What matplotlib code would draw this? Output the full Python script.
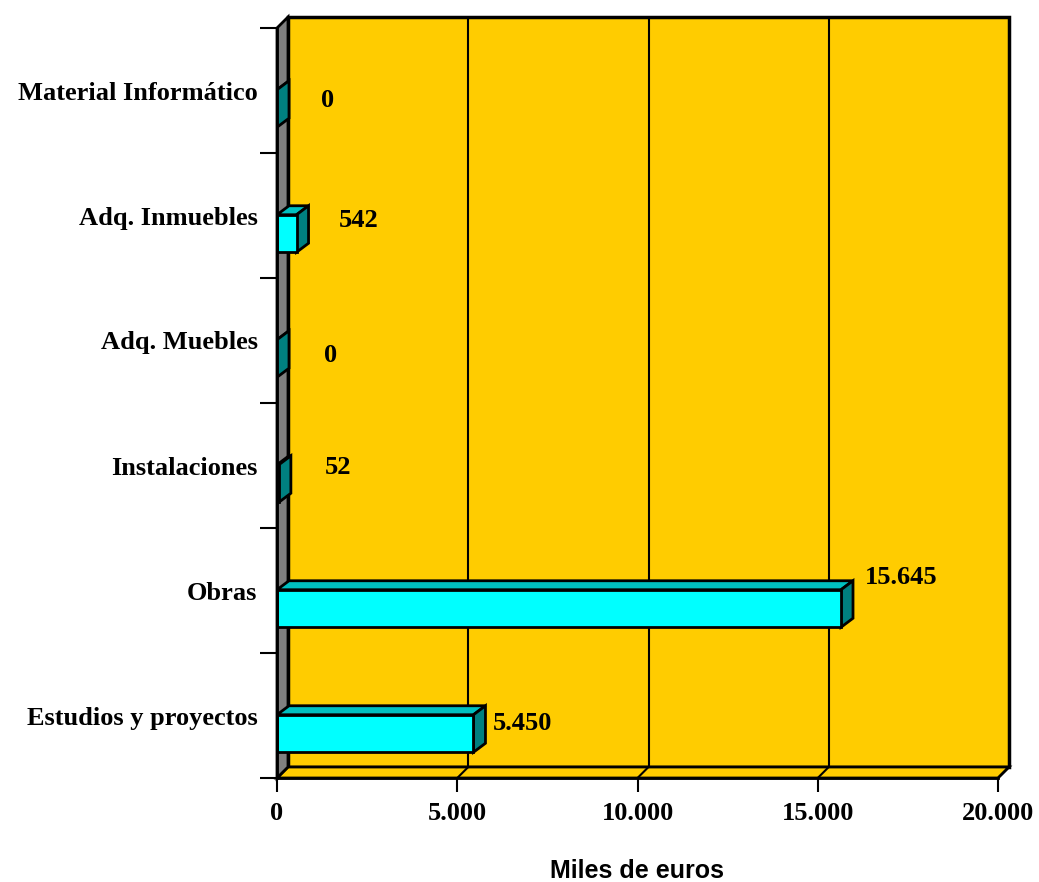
import numpy as np
import matplotlib.pyplot as plt
from matplotlib.patches import Polygon, Rectangle

# datos (miles de euros)
categorias = ["Estudios y proyectos", "Obras", "Instalaciones",
              "Adq. Muebles", "Adq. Inmuebles", "Material Informático"]
valores = [5450, 15645, 52, 0, 542, 0]
xticks = [0, 5000, 10000, 15000, 20000]
xmax = 20000

# desplazamiento de etiquetas en pixeles (como lo coloca Excel)
label_off = [(49, 10), (60, 31), (59, 16), (54, 3), (62, 13), (51, 8)]

W, H = 1039, 882
fig = plt.figure(figsize=(W / 100, H / 100), dpi=100)
ax = fig.add_axes([277 / W, 1 - 778 / H, (1009 - 277) / W, (778 - 17) / H])

n = len(categorias)
px_x = 721 / xmax          # pixeles por unidad de valor
px_y = 125                 # pixeles por categoria
dxw, dyw = 11 / px_x, 11 / px_y   # profundidad de las paredes
dxb, dyb = 12 / px_x, 9 / px_y    # profundidad de las barras
y_lo, y_hi = -0.5, n - 0.5

ax.set_xlim(0, xmax + dxw)
ax.set_ylim(y_lo, y_hi + dyw)

oro = "#FFCC00"
lw = 2
fuente = "Liberation Serif"

# pared del fondo
ax.add_patch(Rectangle((dxw, y_lo + dyw), xmax, n, fc=oro, ec="black", lw=2.5,
                       zorder=1, clip_on=False))
# suelo
ax.add_patch(Polygon([(0, y_lo), (xmax, y_lo), (xmax + dxw, y_lo + dyw), (dxw, y_lo + dyw)],
                     closed=True, fc=oro, ec="black", lw=lw, zorder=1, clip_on=False))
# pared izquierda
ax.add_patch(Polygon([(0, y_lo), (dxw, y_lo + dyw), (dxw, y_hi + dyw), (0, y_hi)],
                     closed=True, fc="#808080", ec="black", lw=lw, zorder=1, clip_on=False))
# lineas de division
for v in xticks[1:-1]:
    ax.plot([v + dxw, v + dxw], [y_lo + dyw, y_hi + dyw], color="black", lw=1.5, zorder=2)
for v in xticks[1:]:
    ax.plot([v, v + dxw], [y_lo, y_lo + dyw], color="black", lw=1.5, zorder=2,
            clip_on=False)

# barras 3D
h = 0.30
for i, v in enumerate(valores):
    yc = i - 0.144
    y0, y1 = yc - h / 2, yc + h / 2
    top = [(0, y1), (v, y1), (v + dxb, y1 + dyb), (dxb, y1 + dyb)]
    side = [(v, y0), (v + dxb, y0 + dyb), (v + dxb, y1 + dyb), (v, y1)]
    ax.add_patch(Polygon(top, closed=True, fc="#00C0C0", ec="black", lw=lw, zorder=3))
    ax.add_patch(Polygon(side, closed=True, fc="#008080", ec="black", lw=lw, zorder=3))
    if v > 0:
        ax.add_patch(Rectangle((0, y0), v, h, fc="#00FFFF", ec="black", lw=lw, zorder=4))
    txt = f"{v:,}".replace(",", ".")
    ox, oy = label_off[i]
    ax.annotate(txt, (v, yc), xytext=(ox, oy), textcoords="offset pixels",
                ha="center", va="center", fontsize=19, fontweight="bold",
                family=fuente, zorder=5)

# ejes
for s in ax.spines.values():
    s.set_visible(False)
ax.plot([0, 0], [y_lo, y_hi], color="black", lw=lw, zorder=6, clip_on=False)
ax.plot([0, xmax], [y_lo, y_lo], color="black", lw=lw, zorder=6, clip_on=False)

ax.set_yticks(np.arange(n + 1) - 0.5)
ax.set_yticklabels([])
ax.set_yticks(np.arange(n), minor=True)
ax.set_yticklabels(categorias, minor=True, fontsize=19, fontweight="bold", family=fuente)
ax.tick_params(axis="y", which="major", direction="out", length=12, width=1.5)
ax.tick_params(axis="y", which="minor", length=0, pad=14)

ax.set_xticks(xticks)
ax.set_xticklabels([f"{v:,}".replace(",", ".") for v in xticks], fontsize=19,
                   fontweight="bold", family=fuente)
ax.tick_params(axis="x", direction="out", length=10, width=1.5, pad=7)

fig.text(637 / W, 1 - 871 / H, "Miles de euros", ha="center", va="center",
         fontsize=18, fontweight="bold", fontstretch="normal", family="Liberation Sans")

fig.savefig("out.png", dpi=100)
